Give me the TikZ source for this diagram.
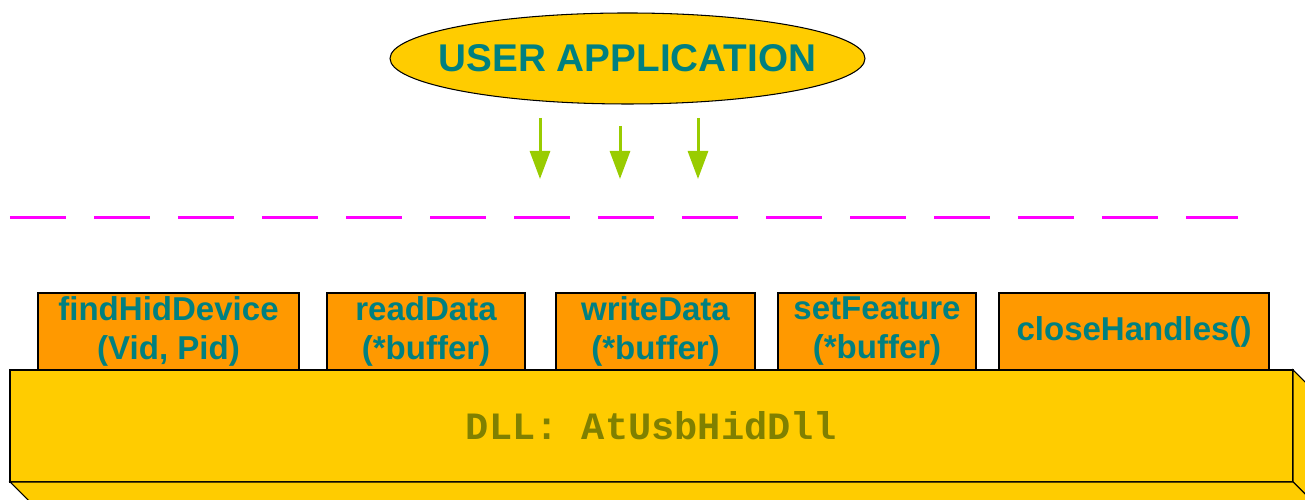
\documentclass[tikz,border=0pt]{standalone}
\usepackage{fontspec}
\setmainfont{Liberation Sans}
\setmonofont{Liberation Mono}
\usetikzlibrary{positioning}
\usetikzlibrary{shapes.geometric}
\usetikzlibrary{arrows.meta}

\definecolor{appgold}{HTML}{FFCC00}
\definecolor{fnorange}{HTML}{FF9900}
\definecolor{fntext}{HTML}{008080}
\definecolor{dlltext}{HTML}{808000}
\definecolor{callgreen}{HTML}{99CC00}
\definecolor{boundpink}{HTML}{FF00FF}

\begin{document}
\begin{tikzpicture}[>={Triangle[length=0.56cm,width=0.4cm]}]
		\tikzset{fnbox/.style = {shape=rectangle, draw, fill=fnorange, line width=0.6pt, align=center, anchor=north, minimum height=1.54cm, inner sep=0pt, outer sep=0pt, text=fntext, font=\fontsize{18.8}{22.2}\selectfont\bfseries},
			call/.style = {->, draw=callgreen, line width=0.06cm}}
		\useasboundingbox (0,0) rectangle (26.1,10);
		\clip (0,0) rectangle (26.1,10);
		
		% application on top
		\coordinate (APPC) at (12.55,8.83);
		\draw[fill=appgold, line width=0.6pt] (APPC) ellipse (4.75cm and 0.91cm);
		\node[text=fntext, font=\fontsize{22}{26}\selectfont\bfseries] (APP) at (APPC) {USER APPLICATION};
		
		% calls into the dll
		\coordinate (CALLA) at (10.8,7.64);
		\coordinate (CALLAEND) at (10.8,6.42);
		\coordinate (CALLB) at (12.4,7.48);
		\coordinate (CALLBEND) at (12.4,6.42);
		\coordinate (CALLC) at (13.96,7.64);
		\coordinate (CALLCEND) at (13.96,6.42);
		\draw[call] (CALLA) -- (CALLAEND);
		\draw[call] (CALLB) -- (CALLBEND);
		\draw[call] (CALLC) -- (CALLCEND);
		
		% boundary
		\coordinate (BOUNDL) at (0.2,5.65);
		\coordinate (BOUNDR) at (24.76,5.65);
		\draw[boundpink, line width=0.065cm, dash pattern=on 1.12cm off 0.56cm] (BOUNDL) -- (BOUNDR);
		
		% exported functions
		\node[fnbox, minimum width=5.22cm] (FIND) at (3.37,4.14) {findHidDevice\\(Vid, Pid)};
		\node[fnbox, minimum width=3.96cm, right=0.56cm of FIND] (READ) {readData\\(*buffer)};
		\node[fnbox, minimum width=3.98cm, right=0.62cm of READ] (WRITE) {writeData\\(*buffer)};
		\node[fnbox, minimum width=3.96cm, right=0.46cm of WRITE] (FEATURE) {setFeature\\(*buffer)};
		\node[fnbox, minimum width=5.4cm, right=0.46cm of FEATURE] (CLOSE) {closeHandles()};
		
		% dll block
		\node[draw, fill=appgold, line width=0.6pt, minimum width=25.66cm, minimum height=2.24cm, anchor=north west, inner sep=0pt, outer sep=0pt, text=dlltext, font=\fontsize{22}{26}\selectfont\ttfamily\bfseries] (DLL) at (0.2,2.6) {DLL: AtUsbHidDll};
		\draw[fill=appgold, line width=0.6pt] (DLL.north east) -- ++(0.4,-0.4) -- ++(0,-2.24) -- (DLL.south east) -- cycle;
		\draw[fill=appgold, line width=0.6pt] (DLL.south west) -- ++(0.4,-0.4) -- ++(25.66,0) -- (DLL.south east) -- cycle;
		
\end{tikzpicture}
\end{document}
